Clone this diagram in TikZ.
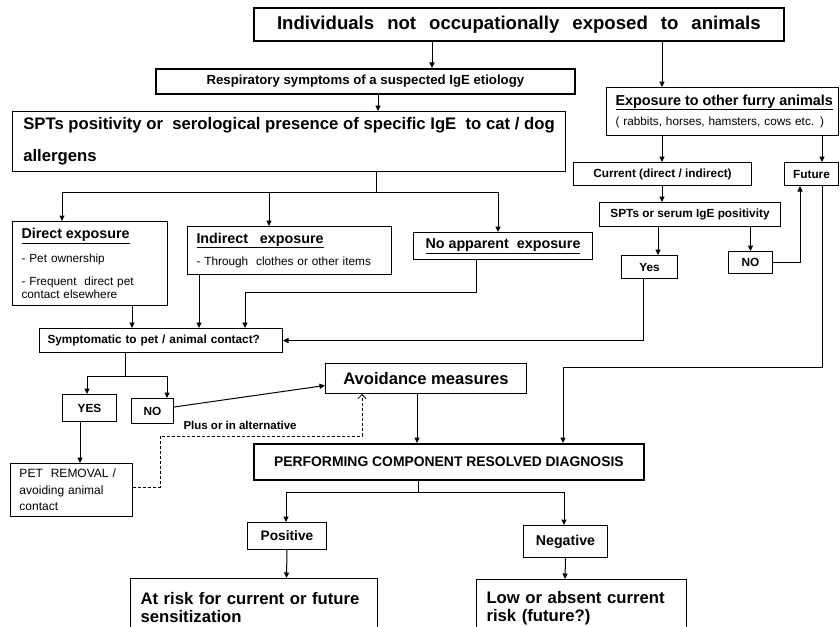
\documentclass[tikz,border=0pt]{standalone}
\usepackage{fontspec}
\setmainfont{Liberation Sans}
\usetikzlibrary{arrows.meta}
\newcommand{\wgap}{\hspace{0.7em}}

\tikzset{
  box/.style={draw, anchor=north west, inner sep=0pt, align=center},
  heavybox/.style={box, line width=1.8pt},
  leftbox/.style={box, align=left, inner xsep=9pt},
  bigfont/.style={font=\fontsize{16.7}{18}\selectfont\bfseries},
  midfont/.style={font=\fontsize{14.3}{16}\selectfont\bfseries},
  smallfont/.style={font=\fontsize{11.8}{13}\selectfont\bfseries},
  plainfont/.style={font=\fontsize{11.8}{13}\selectfont},
}

\begin{document}
\begin{tikzpicture}[x=1pt, y=-1pt, line width=1pt, >={Triangle[length=5.5pt,width=5pt]}]
\clip (0,0) rectangle (840,626);

% upper part
\node[heavybox, font=\fontsize{18.6}{22}\selectfont\bfseries, minimum width=530pt, minimum height=33pt] (top) at (253,7) {Individuals\wgap not\wgap occupationally\wgap exposed\wgap to\wgap animals};
\node[heavybox, font=\fontsize{13.2}{15}\selectfont\bfseries, minimum width=419pt, minimum height=25pt] (resp) at (155,68) {Respiratory symptoms of a suspected IgE etiology};
\node[box, align=left, inner xsep=9pt, font=\fontsize{16.7}{32}\selectfont\bfseries, minimum width=553pt, minimum height=60pt] (spts) at (12,111) {SPTs positivity or\ \ serological presence of specific IgE\ \ to cat / dog\\allergens};

% cat / dog exposure
\node[leftbox, plainfont, text width=137pt, minimum height=84pt] (direct) at (12,221) {{\fontsize{14.3}{16}\selectfont\bfseries\underline{Direct exposure}}\\[9pt]- Pet ownership\\[10pt]- Frequent\ \ direct pet\\contact elsewhere};
\node[leftbox, plainfont, text width=186pt, minimum height=48pt] (indirect) at (187,226) {{\fontsize{14.3}{16}\selectfont\bfseries\underline{Indirect\ \ \ exposure}}\\[8pt]- Through\ \ clothes or other items};
\node[box, midfont, minimum width=179pt, minimum height=27pt] (noapp) at (413,232) {\underline{No apparent\ \ exposure}};
\node[leftbox, smallfont, inner xsep=8pt, text width=227pt, minimum height=24pt] (sympt) at (39,328) {Symptomatic to pet / animal contact?};

% other furry animals
\node[leftbox, plainfont, text width=214pt, minimum height=48pt] (expo) at (606,87) {{\fontsize{14.4}{16}\selectfont\bfseries\underline{Exposure to other furry animals}}\\[6pt]( rabbits, horses, hamsters, cows etc. )};
\node[box, smallfont, minimum width=178pt, minimum height=23pt] (current) at (573,162) {Current (direct / indirect)};
\node[box, smallfont, minimum width=54pt, minimum height=23pt] (future) at (784,162) {Future};
\node[box, smallfont, minimum width=181pt, minimum height=24pt] (sptsrv) at (599,202) {SPTs or serum IgE positivity};
\node[box, smallfont, minimum width=56pt, minimum height=23pt] (yes) at (621,255) {Yes};
\node[box, smallfont, minimum width=44pt, minimum height=22pt] (nor) at (728,251) {NO};

% lower part
\node[box, smallfont, minimum width=54pt, minimum height=27pt] (yesl) at (62,394) {YES};
\node[box, smallfont, minimum width=42pt, minimum height=25pt] (nol) at (131,398) {NO};
\node[box, font=\fontsize{16.6}{18}\selectfont\bfseries, minimum width=201pt, minimum height=30pt] (avoid) at (325,363) {Avoidance measures};
\node[leftbox, font=\fontsize{12}{16.5}\selectfont, text width=104pt, minimum height=53pt] (pet) at (10,463) {PET\ \ REMOVAL /\\avoiding animal\\contact};
\node[font=\fontsize{11.5}{13}\selectfont\bfseries, anchor=base west, inner sep=0pt] (plus) at (183,429) {Plus or in alternative};
\node[heavybox, font=\fontsize{13.9}{16}\selectfont\bfseries, minimum width=390pt, minimum height=36pt] (perf) at (253,443) {PERFORMING COMPONENT RESOLVED DIAGNOSIS};
\node[box, font=\fontsize{13.7}{16}\selectfont\bfseries, minimum width=79pt, minimum height=27pt] (pos) at (247,522) {Positive};
\node[box, font=\fontsize{14.2}{16}\selectfont\bfseries, minimum width=84pt, minimum height=32pt] (neg) at (523,525) {Negative};
\node[leftbox, bigfont, inner xsep=10pt, text width=227pt, minimum height=58pt] (risk) at (130,578) {At risk for current or future\\sensitization};
\node[leftbox, bigfont, inner xsep=10pt, text width=190pt, minimum height=58pt] (low) at (476,579) {Low or absent current\\risk (future?)};

% connectors
\draw[->] ([xshift=179pt]top.south west) -- ([xshift=277pt]resp.north west);
\draw[->] ([xshift=409pt]top.south west) -- ([xshift=56pt]expo.north west);
\draw[->] ([xshift=223pt]resp.south west) -- ([xshift=366pt]spts.north west);
\draw ([xshift=364pt]spts.south west) -- ++(0,20) coordinate (split1);
\draw[->] (split1) -| ([xshift=50pt]direct.north west);
\draw[->] (split1) -| ([xshift=82pt]indirect.north west);
\draw[->] (split1) -| ([xshift=85pt]noapp.north west);
\draw[->] ([xshift=120pt]direct.south west) -- ([xshift=93pt]sympt.north west);
\draw[->] ([xshift=12pt]indirect.south west) -- ([xshift=160pt]sympt.north west);
\draw[->] ([xshift=63pt]noapp.south west) -- ++(0,32) -| ([xshift=206pt]sympt.north west);
\draw[->] ([xshift=22pt]yes.south west) |- (sympt.east);

\draw[->] ([xshift=56pt]expo.south west) -- ([xshift=89pt]current.north west);
\draw[->] ([xshift=216pt]expo.south west) -- ([xshift=38pt]future.north west);
\draw[->] ([xshift=89pt]current.south west) -- ([xshift=63pt]sptsrv.north west);
\draw[->] ([xshift=59pt]sptsrv.south west) -- ([xshift=37pt]yes.north west);
\draw[->] (sptsrv.south -| nor.north) -- (nor.north);
\draw[->] (nor.east) -| ([xshift=16pt]future.south west);
\draw[->] ([xshift=38pt]future.south west) -- ++(0,181) -| ([xshift=310pt]perf.north west);

\draw ([xshift=86pt]sympt.south west) -- ++(0,23) coordinate (split2);
\draw[->] (split2) -| ([xshift=25pt]yesl.north west);
\draw[->] (split2) -| ([xshift=36pt]nol.north west);
\draw[->] ([yshift=4pt]nol.east) -- ([yshift=-7pt]avoid.west);
\draw[->] ([xshift=18pt]yesl.south west) -- ([xshift=70pt]pet.north west);
\draw[line width=0.8pt, dash pattern=on 3pt off 2pt, -{Straight Barb[length=4pt,width=8pt]}] ([yshift=3pt]pet.east) -- ++(27,0) -- ++(0,-51) -| ([xshift=37pt]avoid.south west);
\draw[->] ([xshift=92pt]avoid.south west) -- ([xshift=164pt]perf.north west);

\draw ([xshift=165pt]perf.south west) -- ++(0,12) coordinate (split3);
\draw[->] (split3) -| ([xshift=39pt]pos.north west);
\draw[->] (split3) -| ([xshift=41pt]neg.north west);
\draw[->] (pos.south) -- ([xshift=156.5pt]risk.north west);
\draw[->] (neg.south) -- ([xshift=89pt]low.north west);
\end{tikzpicture}
\end{document}
